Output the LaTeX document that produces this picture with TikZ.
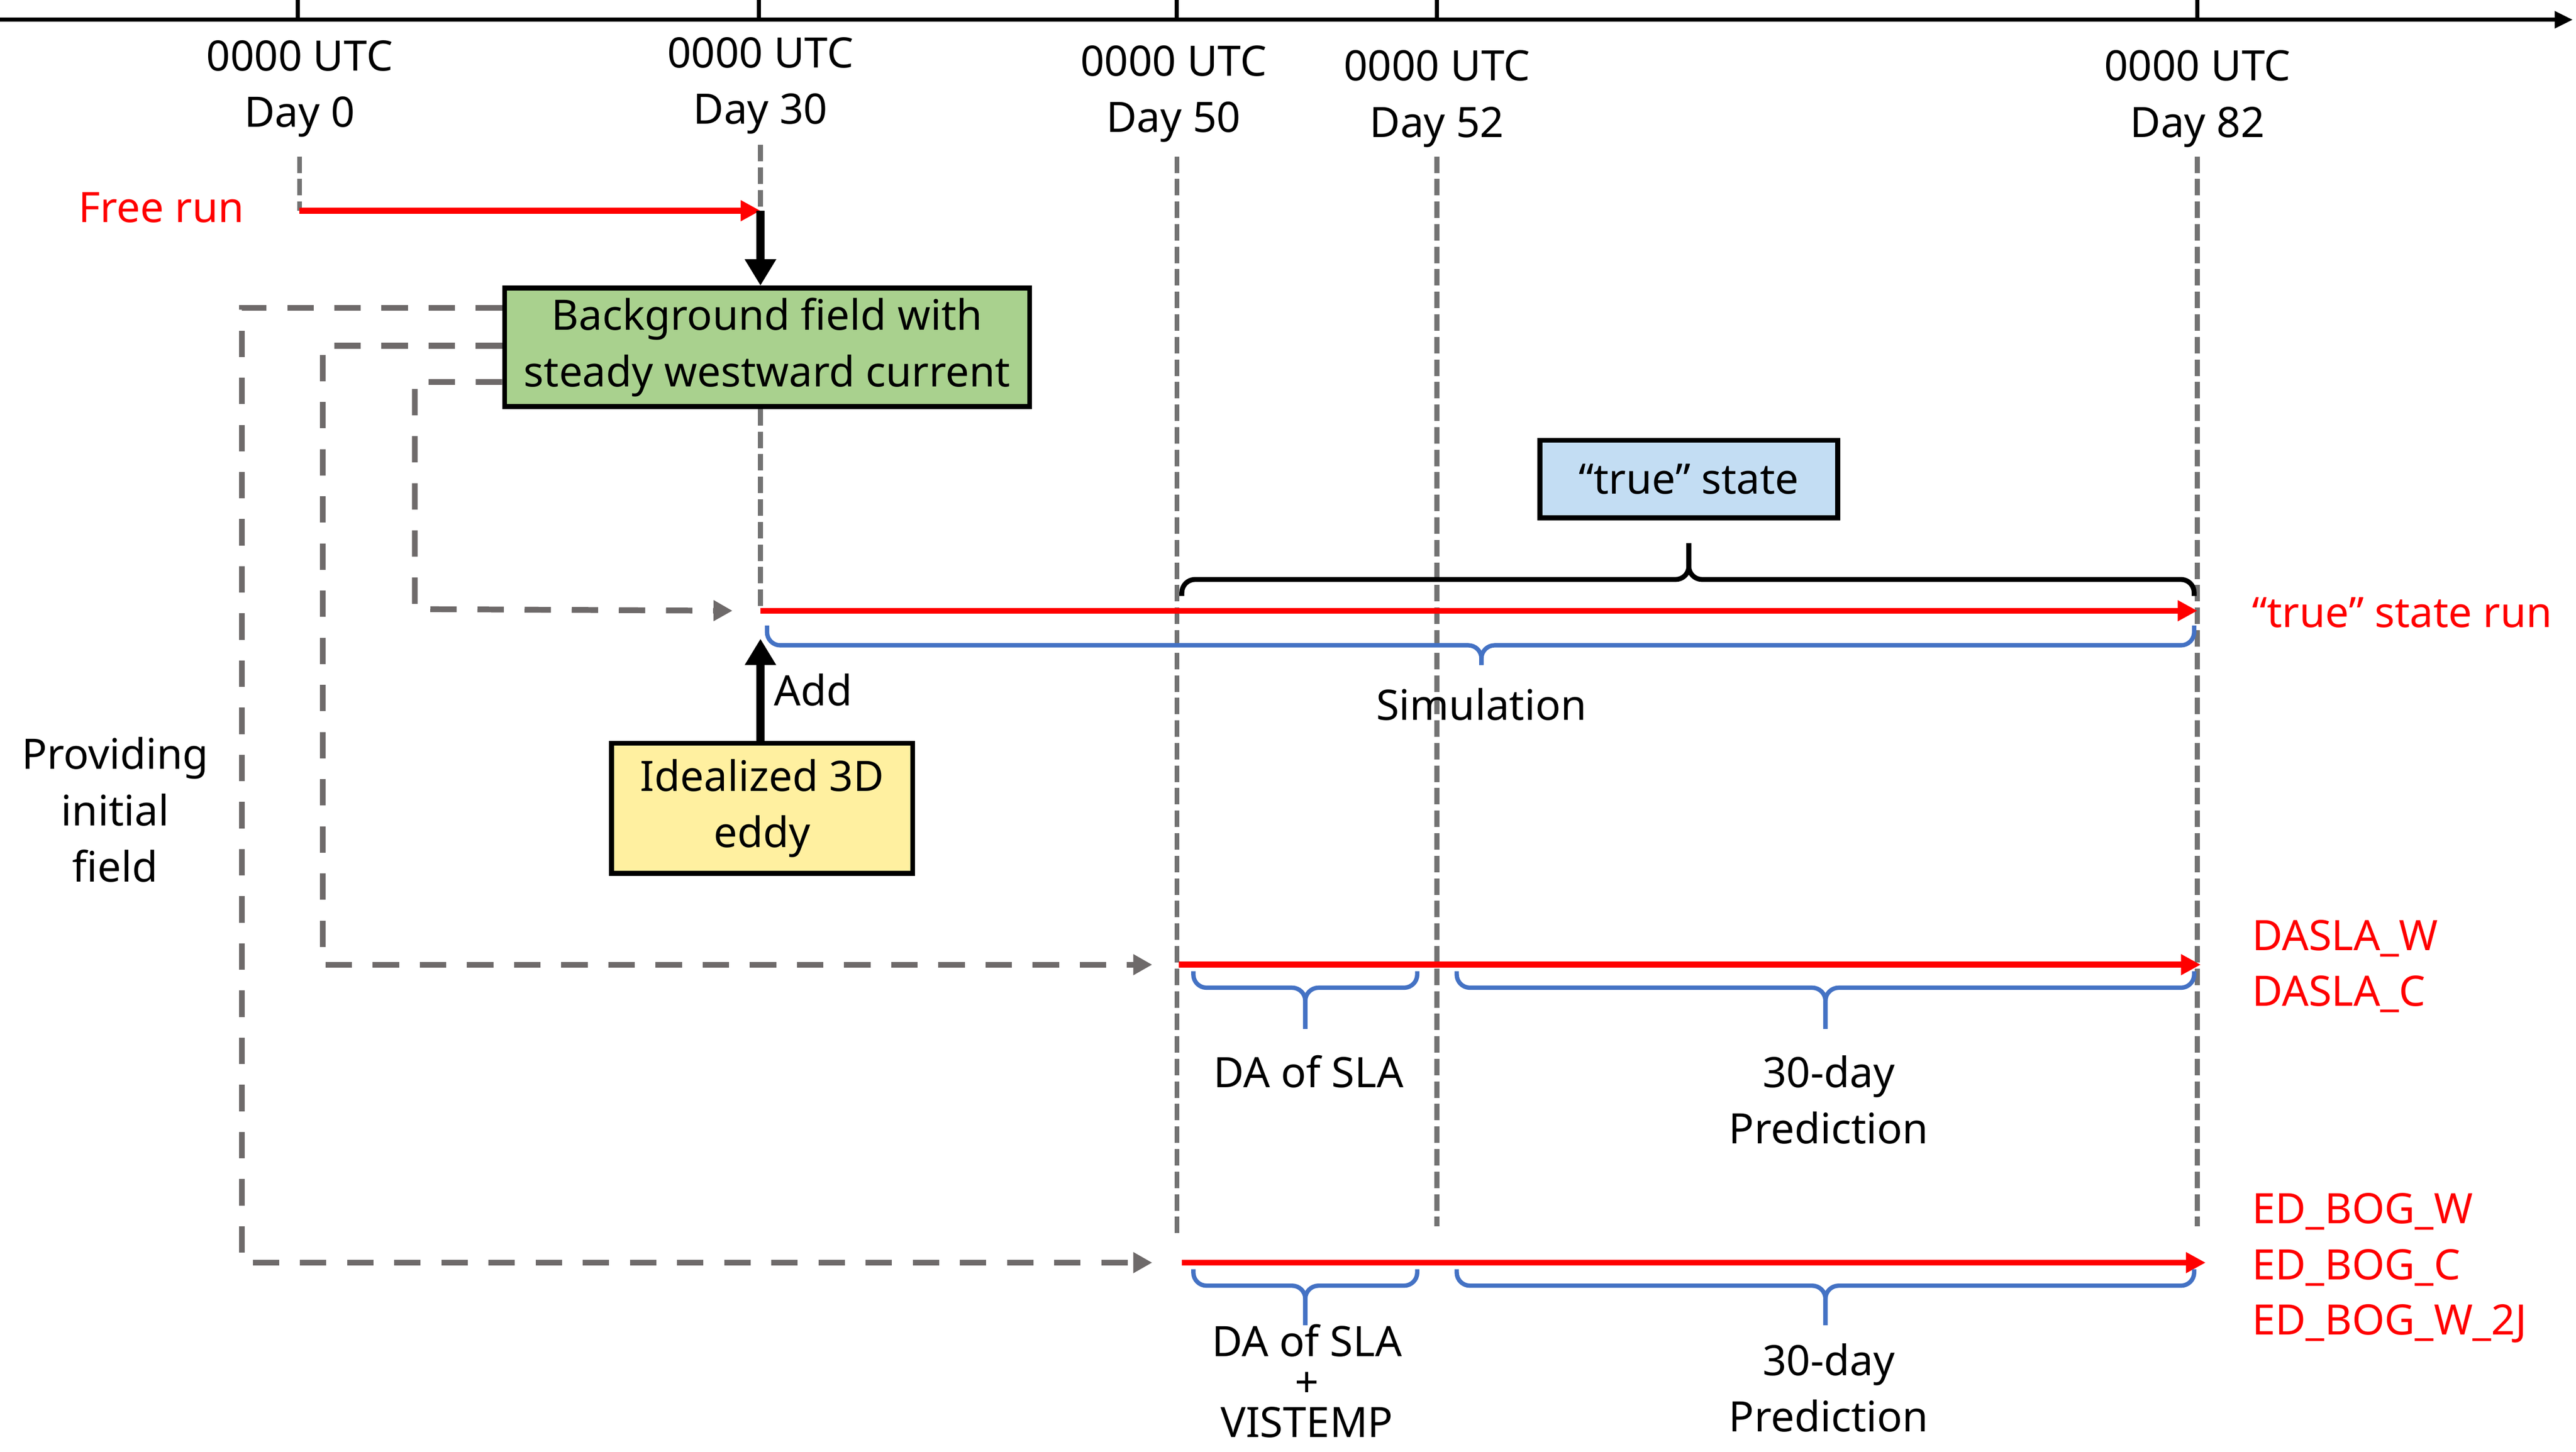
\documentclass[tikz,border=0pt]{standalone}
\usepackage{fontspec}
\setmainfont{Noto Sans}
\usepackage{tikz}
\usetikzlibrary{arrows.meta, calc}

\definecolor{runred}{HTML}{FF0000}
\definecolor{feedgray}{HTML}{6E6A6A}
\definecolor{guidegray}{HTML}{737373}
\definecolor{braceblue}{HTML}{4472C4}
\definecolor{bggreen}{HTML}{A9D18E}
\definecolor{truefill}{HTML}{C3DDF3}
\definecolor{eddyfill}{HTML}{FFF0A0}

\begin{document}
\begin{tikzpicture}[x = 0.02cm, y = -0.02cm,
    font = \fontsize{14.5pt}{19.5pt}\selectfont,
    guide/.style = {draw = guidegray, line width = 1.7pt, dash pattern = on 5.7pt off 2.1pt},
    feed/.style = {draw = feedgray, line width = 2pt, dash pattern = on 9.1pt off 7.2pt, -{Triangle[length = 0.23cm, width = 0.24cm]}},
    run/.style = {draw = runred, line width = 2.05pt, -{Triangle[length = 0.24cm, width = 0.24cm]}},
    push/.style = {draw = black, line width = 2.8pt, -{Triangle[length = 0.32cm, width = 0.36cm]}},
    box/.style = {draw = black, line width = 1.7pt, align = center, inner sep = 2pt},
    bluebrace/.style = {draw = braceblue, line width = 1.5pt, rounded corners = 0.16cm},
    blackbrace/.style = {draw = black, line width = 1.7pt, rounded corners = 0.16cm},
    runlabel/.style = {text = runred, anchor = west}]
    \useasboundingbox (0, 0) rectangle (1565, 882);

    % time axis
    \draw [line width = 1.4pt, -{Triangle[length = 0.22cm, width = 0.2cm]}] (0, 12) -- (1563, 12);
    \foreach \x in {181, 461, 715, 873, 1335} {
        \draw [line width = 1.4pt] (\x, 0) -- (\x, 12);
    }
    \foreach \x/\y/\dnum in {182/54/0, 462/52/30, 713/57/50, 873/60/52, 1335/60/82} {
        \node [align = center] (day\dnum) at (\x, \y) {0000 UTC\\Day \dnum};
    }
    \foreach \x/\ya/\yb in {182/95/128, 462/88/128, 715/95/750, 873/95/745, 1335/95/745} {
        \draw [guide] (\x, \ya) -- (\x, \yb);
    }

    % boxes
    \node [box, fill = bggreen, minimum width = 6.38cm, minimum height = 1.44cm] (bg) at (466, 211) {Background field with\\steady westward current};
    \node [box, fill = eddyfill, minimum width = 3.66cm, minimum height = 1.58cm] (eddy) at (463, 491) {Idealized 3D\\eddy};
    \node [box, fill = truefill, minimum width = 3.62cm, minimum height = 0.94cm] (true) at (1026, 291) {“true” state};

    % free run
    \coordinate (f0) at (182, 128);
    \coordinate (f30) at (462, 128);
    \node [text = runred] (free) at (98, 126) {Free run};
    \draw [run] (f0) -- (f30);
    \draw [push] (f30) -- (f30 |- bg.north);
    \draw [guide] (f30 |- bg.south) -- (462, 370);

    % runs
    \coordinate (t0) at (462, 371);
    \coordinate (t1) at (1335, 371);
    \coordinate (a0) at (716, 586);
    \coordinate (a1) at (1337, 586);
    \coordinate (e0) at (718, 767);
    \coordinate (e1) at (1340, 767);
    \draw [run] (t0) -- (t1);
    \draw [run] (a0) -- (a1);
    \draw [run] (e0) -- (e1);
    \draw [push] (t0 |- eddy.north) -- node [right] (add) {Add} ($(t0) + (0, 17)$);

    % initial fields
    \draw [feed] ($(bg.west) + (0, -24)$) -| (147, 767) -- ($(e0) + (-18, 0)$);
    \draw [feed] ($(bg.west) + (0, -1)$) -| (196, 586) -- ($(a0) + (-16, 0)$);
    \draw [feed] ($(bg.west) + (0, 21)$) -| (252, 370) -- ($(t0) + (-17, 0)$);
    \node [align = center] (init) at (70, 492) {Providing\\initial\\field};

    % braces
    \draw [blackbrace] (718, 362) |- (1026, 352) -- (1026, 330);
    \draw [blackbrace] (1333, 362) |- (1026, 352) -- (1026, 330);
    \foreach \xa/\xb/\xm/\ya/\yb/\yc in {466/1333/900/380/392/404, 725/861/793/590/600/625, 885/1333/1109/590/600/625, 725/861/793/771/781/805, 885/1333/1109/771/781/805} {
        \draw [bluebrace] (\xa, \ya) |- (\xm, \yb) -- (\xm, \yc);
        \draw [bluebrace] (\xb, \ya) |- (\xm, \yb) -- (\xm, \yc);
    }
    \node (sim) at (900, 428) {Simulation};
    \node (da1) at (795, 651) {DA of SLA};
    \node [align = center] (pred1) at (1111, 668) {30-day\\Prediction};
    \node [align = center, font = \fontsize{14.5pt}{14pt}\selectfont] (da2) at (794, 839) {DA of SLA\\+\\VISTEMP};
    \node [align = center] (pred2) at (1111, 843) {30-day\\Prediction};

    % run names
    \node [runlabel] (truerun) at (1362, 372) {“true” state run};
    \foreach \name [count = \m] in {DASLA\_W, DASLA\_C} {
        \node [runlabel] (dasla\m) at (1362, 536 + 34 * \m) {\name};
    }
    \foreach \name [count = \m] in {ED\_BOG\_W, ED\_BOG\_C, ED\_BOG\_W\_2J} {
        \node [runlabel] (edbog\m) at (1362, 702 + 34 * \m) {\name};
    }
\end{tikzpicture}
\end{document}
